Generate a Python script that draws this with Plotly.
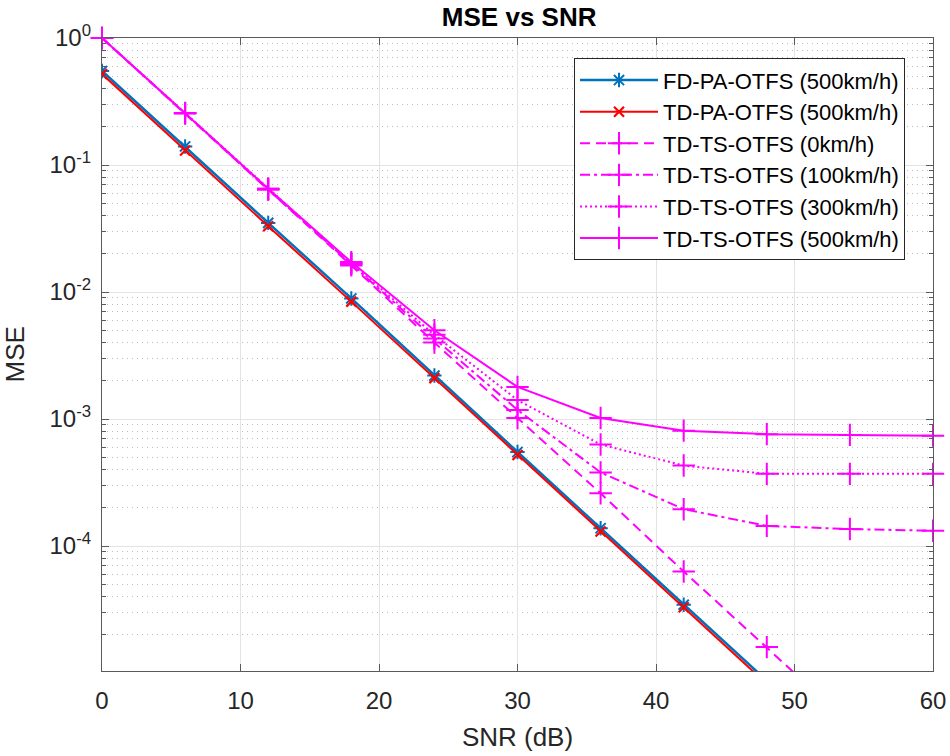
import plotly.graph_objects as go

snr = [0, 6, 12, 18, 24, 30, 36, 42, 48, 54, 60]

fd_pa_500 = [0.55, 0.14, 0.035, 0.0089, 0.0022, 5.5e-4, 1.38e-4, 3.45e-5, 8.7e-6, 2.2e-6, 5.5e-7]
td_pa_500 = [0.52, 0.13, 0.033, 0.0084, 0.0021, 5.2e-4, 1.3e-4, 3.3e-5, 8.2e-6, 2.1e-6, 5.2e-7]
td_ts_0 = [1.0, 0.255, 0.064, 0.0162, 0.0040, 1.02e-3, 2.6e-4, 6.3e-5, 1.6e-5, 4.0e-6, 1.0e-6]
td_ts_100 = [1.0, 0.256, 0.064, 0.0166, 0.0043, 1.18e-3, 3.8e-4, 1.95e-4, 1.44e-4, 1.36e-4, 1.32e-4]
td_ts_300 = [1.0, 0.256, 0.065, 0.0168, 0.0046, 1.41e-3, 6.3e-4, 4.3e-4, 3.7e-4, 3.7e-4, 3.7e-4]
td_ts_500 = [1.0, 0.257, 0.065, 0.0172, 0.0050, 1.79e-3, 1.02e-3, 8.1e-4, 7.6e-4, 7.5e-4, 7.4e-4]

names = ["FD-PA-OTFS (500km/h)", "TD-PA-OTFS (500km/h)", "TD-TS-OTFS (0km/h)",
         "TD-TS-OTFS (100km/h)", "TD-TS-OTFS (300km/h)", "TD-TS-OTFS (500km/h)"]

ytickvals = [1, 0.1, 0.01, 0.001, 0.0001]
yticktext = ["10<sup>0</sup>", "10<sup>-1</sup>", "10<sup>-2</sup>", "10<sup>-3</sup>", "10<sup>-4</sup>"]
xtickvals = [0, 10, 20, 30, 40, 50, 60]

BLUE = "#0072BD"
RED = "#FF0000"
MAG = "#FF00FF"
FONT = "Liberation Sans, Arial, sans-serif"

fig = go.Figure()

fig.add_trace(go.Scatter(x=snr, y=fd_pa_500, name=names[0], mode="lines+markers",
                         line=dict(color=BLUE, width=2.5),
                         marker=dict(symbol="asterisk-open", size=12, line=dict(color=BLUE, width=2))))
fig.add_trace(go.Scatter(x=snr, y=td_pa_500, name=names[1], mode="lines+markers",
                         line=dict(color=RED, width=2),
                         marker=dict(symbol="x-thin-open", size=10, line=dict(color=RED, width=2.2))))

styles = [("10px,6px", td_ts_0, True), ("10px,4px,3px,4px", td_ts_100, False),
          ("2px,3px", td_ts_300, False), ("solid", td_ts_500, False)]
for i, (dash, ys, clip) in enumerate(styles):
    fig.add_trace(go.Scatter(x=snr, y=ys, name=names[2 + i], mode="lines+markers",
                             cliponaxis=clip,
                             line=dict(color=MAG, width=2, dash=dash),
                             marker=dict(symbol="cross-thin-open", size=16, line=dict(color=MAG, width=2))))

axis_common = dict(
    showline=True, linecolor="#5a5a5a", linewidth=1.3, mirror="ticks",
    ticks="inside", ticklen=7, tickcolor="#5a5a5a",
    showgrid=True, gridcolor="#e3e3e3", gridwidth=1, zeroline=False,
    automargin=False,
    tickfont=dict(family=FONT, size=24, color="#262626"),
)

fig.update_xaxes(range=[0, 60], tickvals=xtickvals, ticklabelstandoff=8,
                 title=dict(text="SNR (dB)", font=dict(family=FONT, size=26, color="#262626"), standoff=14),
                 **axis_common)
fig.update_yaxes(type="log", range=[-4.984, 0], tickvals=ytickvals, ticktext=yticktext,
                 ticklabelstandoff=5,
                 minor=dict(dtick="D1", showgrid=True, griddash="1px,4px", gridcolor="#bdbdbd", gridwidth=1,
                            ticks="inside", ticklen=4, tickcolor="#5a5a5a"),
                 **axis_common)

fig.add_annotation(text="MSE", xref="paper", yref="paper", x=(14 - 102) / 831, y=0.5,
                   xanchor="center", yanchor="middle", textangle=-90, showarrow=False,
                   font=dict(family=FONT, size=26, color="#262626"))

fig.update_layout(
    width=950, height=756,
    margin=dict(l=102, r=17, t=38, b=85),
    paper_bgcolor="white", plot_bgcolor="white",
    title=dict(text="<b>MSE vs SNR</b>", x=0.5465, xanchor="center", y=0.977, yanchor="middle",
               font=dict(family=FONT, size=26, color="#000000")),
    legend=dict(x=0.568, y=0.968, xanchor="left", yanchor="top",
                bgcolor="white", bordercolor="#262626", borderwidth=1,
                itemwidth=78,
                font=dict(family=FONT, size=22, color="#000000"),
                tracegroupgap=0),
    showlegend=True,
)

fig.write_html("out.html")
